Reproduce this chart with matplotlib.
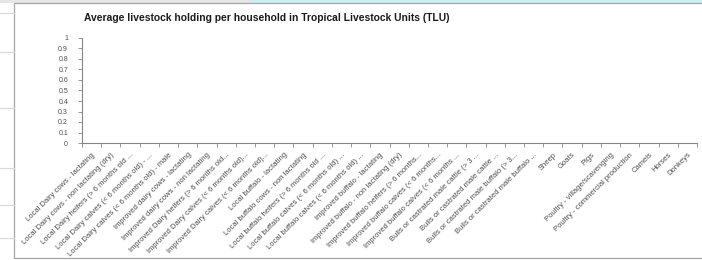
import matplotlib
matplotlib.use("Agg")
import matplotlib.pyplot as plt
from matplotlib.patches import Rectangle
from matplotlib.lines import Line2D

title = "Average livestock holding per household in Tropical Livestock Units (TLU)"

categories = [
    "Local Dairy cows - lactating",
    "Local Dairy cows - non lactating (dry)",
    "Local Dairy heifers (> 6 months old ...",
    "Local Dairy calves (< 6 months old) - ...",
    "Local Dairy calves (< 6 months old) - male",
    "Improved dairy cows - lactating",
    "Improved dairy cows - non lactating",
    "Improved Dairy heifers (> 6 months old...",
    "Improved Dairy calves (< 6 months old)...",
    "Improved Dairy calves (< 6 months old)...",
    "Local buffalo - lactating",
    "Local buffalo cows - non lactating",
    "Local buffalo heifers (> 6 months old ...",
    "Local buffalo calves (< 6 months old) ...",
    "Local buffalo calves (< 6 months old) ...",
    "Improved buffalo - lactating",
    "Improved buffalo - non lactating (dry)",
    "Improved buffalo heifers (> 6 months...",
    "Improved buffalo calves (< 6 months...",
    "Improved buffalo calves (< 6 months ...",
    "Bulls or castrated male cattle (> 3 ...",
    "Bulls or castrated male cattle ...",
    "Bulls or castrated male buffalo (> 3...",
    "Bulls or castrated male buffalo ...",
    "Sheep",
    "Goats",
    "Pigs",
    "Poultry - village/scavenging",
    "Poultry - commercial production",
    "Camels",
    "Horses",
    "Donkeys",
]

# No visible data in the reference: every category has an empty (zero) value
tlu_values = [0, 0, 0, 0, 0, 0, 0, 0, 0, 0, 0, 0, 0, 0, 0, 0,
              0, 0, 0, 0, 0, 0, 0, 0, 0, 0, 0, 0, 0, 0, 0, 0]

y_ticks = [0, 0.1, 0.2, 0.3, 0.4, 0.5, 0.6, 0.7, 0.8, 0.9, 1]
y_tick_labels = ["0", "0.1", "0.2", "0.3", "0.4", "0.5", "0.6", "0.7", "0.8", "0.9", "1"]

W, H = 702, 260
fig = plt.figure(figsize=(W / 100, H / 100), dpi=100)
fig.patch.set_facecolor("white")

# Spreadsheet background (left strip gridlines, top strip)
for yy in [13, 52, 108, 168, 205, 238]:
    fig.add_artist(Line2D([0, 14 / W], [1 - yy / H, 1 - yy / H], color="#d9d9d9", lw=0.8))
fig.add_artist(Rectangle((0, 1 - 3 / H), 1, 3 / H, facecolor="#e6e6e6", edgecolor="none"))
fig.add_artist(Rectangle((250 / W, 1 - 3 / H), 1 - 250 / W, 3 / H, facecolor="#cdeef0", edgecolor="none"))
# Chart area border
fig.add_artist(Rectangle((14 / W, 2 / H), 1 - 14 / W + 0.01, 1 - 5 / H,
                         facecolor="none", edgecolor="#a6a6a6", lw=0.9))

ax = fig.add_axes([82 / W, (H - 143) / H, (697 - 82) / W, (143 - 38) / H])
x = list(range(len(categories)))
ax.bar(x, tlu_values, width=0.6, color="#4f81bd")
ax.set_xlim(-0.5, len(categories) - 0.5)
ax.set_ylim(0, 1)

gray = "#4d4d4d"
ax.set_yticks(y_ticks)
ax.set_yticklabels(y_tick_labels, fontsize=5, color=gray, family="Liberation Sans")
ax.set_xticks(x)
ax.set_xticklabels(categories, rotation=45, ha="right", va="top",
                   rotation_mode="anchor", fontsize=5.5, color=gray, family="Liberation Sans")
ax.set_xticks([i - 0.5 for i in range(len(categories) + 1)], minor=True)
ax.tick_params(axis="x", which="major", length=0, pad=6)
ax.tick_params(axis="x", which="minor", length=3, color="#868686", width=0.6)
ax.tick_params(axis="y", length=3, color="#868686", width=0.6, pad=7)
for s in ["top", "right"]:
    ax.spines[s].set_visible(False)
for s in ["left", "bottom"]:
    ax.spines[s].set_color("#868686")
    ax.spines[s].set_linewidth(0.8)

fig.text(267 / W, 1 - 18 / H, title, ha="center", va="center",
         fontsize=7.4, fontweight="bold", color="#1a1a1a", family="Liberation Sans")

fig.savefig("out.png", dpi=100, facecolor="white")
